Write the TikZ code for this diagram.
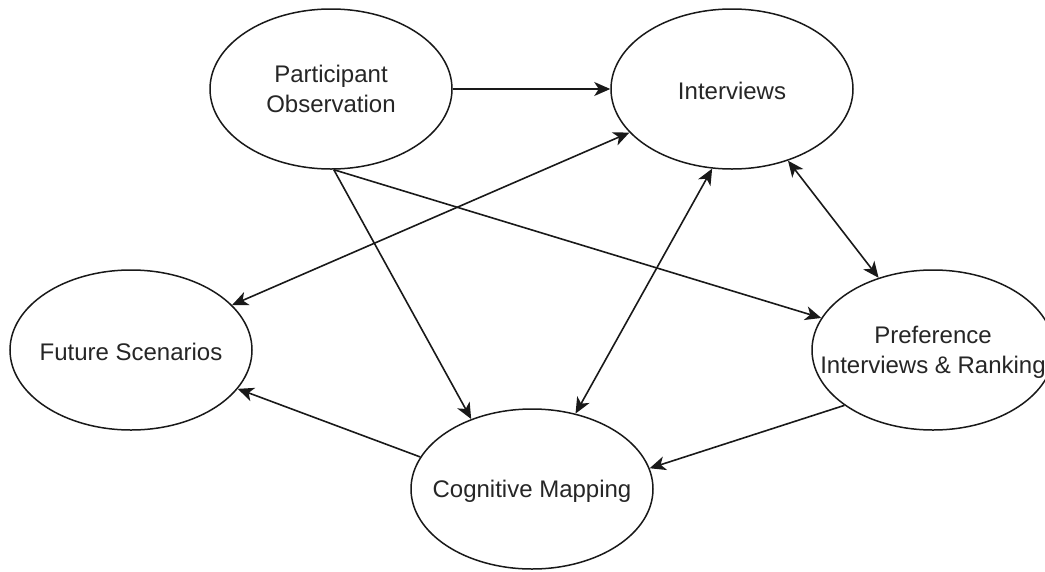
\documentclass[tikz,border=0pt]{standalone}
\usepackage{fontspec}
\setmainfont{Liberation Sans}
\usetikzlibrary{shapes.geometric,arrows.meta}
\begin{document}
\begin{tikzpicture}[x=1pt,y=-1pt,
  bubble/.style={ellipse,draw=black!90,line width=1.5pt,fill=white,
    minimum width=242pt,minimum height=160pt,inner sep=0pt},
  caption/.style={font=\fontsize{24}{30}\selectfont,text=black!85,
    align=center,inner sep=0pt},
  tip/.tip={Stealth[length=16pt,width=14pt,inset=4.5pt]},
  link/.style={line width=1.6pt,draw=black!90,-tip},
  twoway/.style={line width=1.6pt,draw=black!90,tip-tip}]

\useasboundingbox (0,0) rectangle (1045,571);

% method bubbles
\node[bubble] (po)   at (331,89)  {};
\node[bubble] (int)  at (732,89)  {};
\node[bubble] (fs)   at (131,350) {};
\node[bubble] (pref) at (933,350) {};
\node[bubble] (cm)   at (532,489) {};

% captions
\node[caption] (po-t)   at (po)   {Participant\\Observation};
\node[caption] (int-t)  at ([yshift=-2pt]int.center) {Interviews};
\node[caption] (fs-t)   at ([yshift=-2pt]fs.center)  {Future Scenarios};
\node[caption] (pref-t) at ([yshift=-2pt]pref.center) {Preference\\Interviews \& Ranking};
\node[caption] (cm-t)   at ([yshift=-2pt]cm.center)  {Cognitive Mapping};

% relations between methods
\draw[link]   (po.east)  -- (int.west);
\draw[twoway] (fs.24)    -- (int.203);
\draw[link]   (po.-88)   -- (cm.131);
\draw[link]   (po.-88)   -- (pref.164);
\draw[twoway] (cm.60)    -- (int.-104);
\draw[twoway] (int.-52)  -- (pref.127);
\draw[link]   (pref.212) -- (cm.10);
\draw[link]   (cm.164)   -- (fs.-20);

\end{tikzpicture}
\end{document}
